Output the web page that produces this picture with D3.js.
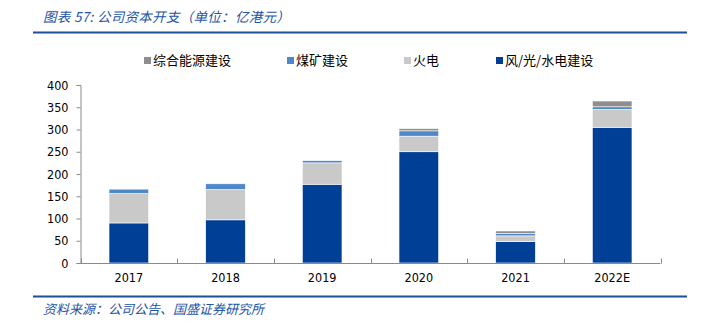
<!DOCTYPE html>
<html><head><meta charset="utf-8">
<script src="https://cdn.jsdelivr.net/npm/d3@7"></script>
<style>body{margin:0;background:#fff}svg{display:block}</style>
</head><body>
<svg id="c" width="706" height="328"></svg>
<script>
const categories = ["2017","2018","2019","2020","2021","2022E"];
const windSolarHydro = [90, 97, 177, 250, 48, 305];
const thermal = [66, 68, 48, 35, 13, 40];
const coalMine = [10, 13, 5, 12, 5, 6];
const integratedEnergy = [0, 0, 0, 5, 6, 13];
const yTicks = [0, 50, 100, 150, 200, 250, 300, 350, 400];
const seriesNames = ["风/光/水电建设", "火电", "煤矿建设", "综合能源建设"];
const legendOrder = ["综合能源建设", "煤矿建设", "火电", "风/光/水电建设"];
const colors = {"风/光/水电建设":"#003F96","火电":"#C9C9C9","煤矿建设":"#4F88C8","综合能源建设":"#8E8E8E"};

const svg = d3.select("#c");
const blue = "#2454A4";
// title
svg.append("text").attr("x",43).attr("y",22).attr("fill",blue)
  .attr("font-family","'Noto Sans CJK SC'").attr("font-size",13.5).attr("font-style","italic")
  .attr("letter-spacing",0.3)
  .text("图表 57: 公司资本开支（单位：亿港元）");
svg.append("line").attr("x1",33).attr("x2",687).attr("y1",32.5).attr("y2",32.5).attr("stroke","#1F4E9A").attr("stroke-width",2);
svg.append("line").attr("x1",33).attr("x2",687).attr("y1",296.5).attr("y2",296.5).attr("stroke","#1F4E9A").attr("stroke-width",2);
svg.append("text").attr("x",43).attr("y",314).attr("fill",blue)
  .attr("font-family","'Noto Sans CJK SC'").attr("font-size",13).attr("font-style","italic")
  .text("资料来源：公司公告、国盛证券研究所");

const x = d3.scaleBand().domain(categories).range([80.5,660.5]).paddingInner(0.59).paddingOuter(0.295);
const y = d3.scaleLinear().domain([0,400]).range([263,85]);

const table = categories.map((c,i)=>({cat:c,"风/光/水电建设":windSolarHydro[i],"火电":thermal[i],"煤矿建设":coalMine[i],"综合能源建设":integratedEnergy[i]}));
const stack = d3.stack().keys(seriesNames)(table);

svg.append("g").selectAll("g").data(stack).join("g").attr("fill",d=>colors[d.key])
  .selectAll("rect").data(d=>d).join("rect")
  .attr("x",d=>x(d.data.cat)).attr("width",x.bandwidth())
  .attr("y",d=>y(d[1])).attr("height",d=>Math.max(0,y(d[0])-y(d[1])))
  .attr("stroke","#fff").attr("stroke-width",0.6);

const tickFont = "'DejaVu Sans Condensed', 'DejaVu Sans', sans-serif";
// y axis
const ya = svg.append("g").attr("transform","translate(80.5,0)")
  .call(d3.axisLeft(y).tickValues(yTicks).tickSize(4).tickPadding(8));
ya.select(".domain").attr("stroke","#8a8a8a");
ya.selectAll(".tick line").attr("stroke","#8a8a8a");
ya.selectAll("text").attr("font-family",tickFont).attr("font-size",12.5).attr("fill","#000");

// x axis
const xa = svg.append("g").attr("transform","translate(0,263.5)")
  .call(d3.axisBottom(x).tickSize(0).tickPadding(10));
xa.select(".domain").attr("stroke","#8a8a8a").attr("d","M80.5,0H660.5");
xa.selectAll("text").attr("font-family",tickFont).attr("font-size",12.5).attr("fill","#000");
const bounds = d3.range(categories.length+1).map(i=>80.5 + i*(580/categories.length));
xa.selectAll(".bt").data(bounds).join("line").attr("class","bt")
  .attr("x1",d=>Math.round(d)+0.5).attr("x2",d=>Math.round(d)+0.5).attr("y1",0).attr("y2",-5).attr("stroke","#8a8a8a");

// legend
const legX = [144, 287, 404, 496];
const lg = svg.append("g").selectAll("g").data(legendOrder).join("g")
  .attr("transform",(d,i)=>`translate(${legX[i]},0)`);
lg.append("rect").attr("x",0).attr("y",57).attr("width",7).attr("height",7).attr("fill",d=>colors[d]);
lg.append("text").attr("x",9).attr("y",65).attr("font-family","'Noto Sans CJK SC'").attr("font-size",13).attr("fill","#000").text(d=>d);
</script>
</body></html>
